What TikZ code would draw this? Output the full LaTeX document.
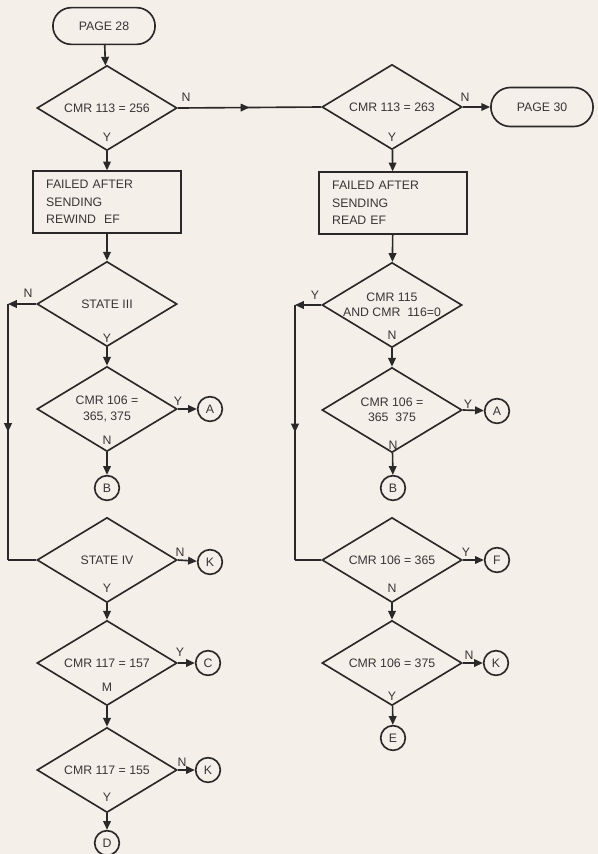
\documentclass[tikz,border=0pt]{standalone}
\usepackage{fontspec}
\setmainfont{Liberation Sans}
\usepackage{xcolor}
\definecolor{chartPaper}{RGB}{244,240,233}
\definecolor{chartInk}  {RGB}{ 42, 40, 40}
\definecolor{chartText} {RGB}{ 55, 52, 52}
\usepackage{tikz}
\usetikzlibrary{
  arrows.meta,
  shapes.geometric,
  shapes.misc,
  decorations.markings,
}

\begin{document}
\begin{tikzpicture}[
  x=0.03cm, y=-0.03cm,
  >={Triangle[length=7.5pt, width=6.5pt]},
  base/.style ={draw=chartInk, line width=1.4pt, text=chartText,
                font=\fontsize{10.5}{13}\selectfont},
  term/.style ={base, rounded rectangle, minimum width=3.3cm, minimum height=1.1cm},
  test/.style ={base, diamond, shape aspect=1.65, inner sep=0pt, minimum width=4.2cm,
                minimum height=2.55cm, align=center},
  proc/.style ={base, rectangle, minimum height=1.85cm, text width=3.65cm,
                inner xsep=0.4cm, align=left, font=\fontsize{10.5}{15}\selectfont},
  conn/.style ={base, circle, inner sep=0pt, minimum size=0.74cm},
  line/.style ={draw=chartInk, line width=1.4pt},
  flow/.style ={line, ->},
  midflow/.style={line, postaction={decorate},
                decoration={markings,
                  mark=at position 0.5 with {\arrow{Triangle[length=7.5pt, width=6.5pt]}}}},
  yn/.style   ={text=chartText, font=\fontsize{10.5}{13}\selectfont, inner sep=1pt},
]
  \useasboundingbox[fill=chartPaper] (0,0) rectangle (598,854);

  % Left column
  \node[term] (p28)  at (104, 26) {PAGE 28};
  \node[test] (d256) at (107,108) {CMR 113 = 256};
  \node[proc] (rew)  at (107,202) {FAILED AFTER\\SENDING\\REWIND\ \ EF};
  \node[test] (st3)  at (107,304) {STATE III};
  \node[test] (ca)   at (107,409) {CMR 106 =\\365, 375};
  \node[conn] (a1)   at (210,409) {A};
  \node[conn] (b1)   at (107,488) {B};
  \node[test] (st4)  at (107,560) {STATE IV};
  \node[conn] (k1)   at (210,562) {K};
  \node[test] (c157) at (107,663) {CMR 117 = 157};
  \node[conn] (c1)   at (208,663) {C};
  \node[test] (c155) at (107,770) {CMR 117 = 155};
  \node[conn] (k2)   at (208,770) {K};
  \node[conn] (d1)   at (107,843) {D};

  % Right column
  \node[test] (d263) at (392,107) {CMR 113 = 263};
  \node[term, minimum height=1.17cm] (p30) at (542,107) {PAGE 30};
  \node[proc] (rd)   at (393,203) {FAILED AFTER\\SENDING\\READ EF};
  \node[test] (cand) at (392,305) {CMR 115\\AND CMR\ \ 116=0};
  \node[test] (cb)   at (392,410) {CMR 106 =\\365\ \ 375};
  \node[conn] (a2)   at (497,411) {A};
  \node[conn] (b2)   at (393,488) {B};
  \node[test] (c365) at (392,560) {CMR 106 = 365};
  \node[conn] (f1)   at (497,560) {F};
  \node[test] (c375) at (392,663) {CMR 106 = 375};
  \node[conn] (k3)   at (496,663) {K};
  \node[conn] (e1)   at (393,738) {E};

  % loop corners
  \coordinate (lt) at (8,304);
  \coordinate (lb) at (8,560);
  \coordinate (rt) at (295,305);
  \coordinate (rb) at (295,560);

  % Connectors, left
  \draw[flow] (p28) -- (d256);
  \draw[flow] (d256) -- (rew);
  \draw[midflow] (d256.east) -- (d263.west);
  \draw[flow] (rew) -- (st3);
  \draw[flow] (st3) -- (ca);
  \draw[flow] (ca.east) -- (a1);
  \draw[flow] (ca) -- (b1);
  \draw[flow] (st3.west) -- (lt);
  \draw[midflow] (lt) -- (lb);
  \draw[line] (lb) -- (st4.west);
  \draw[flow] (st4.east) -- (k1);
  \draw[flow] (st4) -- (c157);
  \draw[flow] (c157.east) -- (c1);
  \draw[flow] (c157) -- (c155);
  \draw[flow] (c155.east) -- (k2);
  \draw[flow] (c155) -- (d1);

  % Connectors, right
  \draw[flow] (d263.east) -- (p30);
  \draw[flow] (d263) -- (rd);
  \draw[flow] (rd) -- (cand);
  \draw[flow] (cand) -- (cb);
  \draw[flow] (cb.east) -- (a2);
  \draw[flow] (cb) -- (b2);
  \draw[flow] (cand.west) -- (rt);
  \draw[midflow] (rt) -- (rb);
  \draw[line] (rb) -- (c365.west);
  \draw[flow] (c365.east) -- (f1);
  \draw[flow] (c365) -- (c375);
  \draw[flow] (c375.east) -- (k3);
  \draw[flow] (c375) -- (e1);

  % Branch letters
  \node[yn] (d256n) at (186, 97) {N};
  \node[yn] (d256y) at (107,137) {Y};
  \node[yn] (d263n) at (465, 97) {N};
  \node[yn] (d263y) at (392,137) {Y};
  \node[yn] (st3n)  at ( 28,293) {N};
  \node[yn] (st3y)  at (107,338) {Y};
  \node[yn] (cay)   at (178,401) {Y};
  \node[yn] (can)   at (107,440) {N};
  \node[yn] (st4n)  at (180,552) {N};
  \node[yn] (st4y)  at (107,588) {Y};
  \node[yn] (c157y) at (180,652) {Y};
  \node[yn] (c157m) at (107,687) {M};
  \node[yn] (c155n) at (182,762) {N};
  \node[yn] (c155y) at (107,797) {Y};
  \node[yn] (candy) at (315,295) {Y};
  \node[yn] (candn) at (392,335) {N};
  \node[yn] (cby)   at (468,404) {Y};
  \node[yn] (cbn)   at (393,445) {N};
  \node[yn] (c365y) at (466,552) {Y};
  \node[yn] (c365n) at (392,588) {N};
  \node[yn] (c375n) at (469,655) {N};
  \node[yn] (c375y) at (392,696) {Y};
\end{tikzpicture}
\end{document}
